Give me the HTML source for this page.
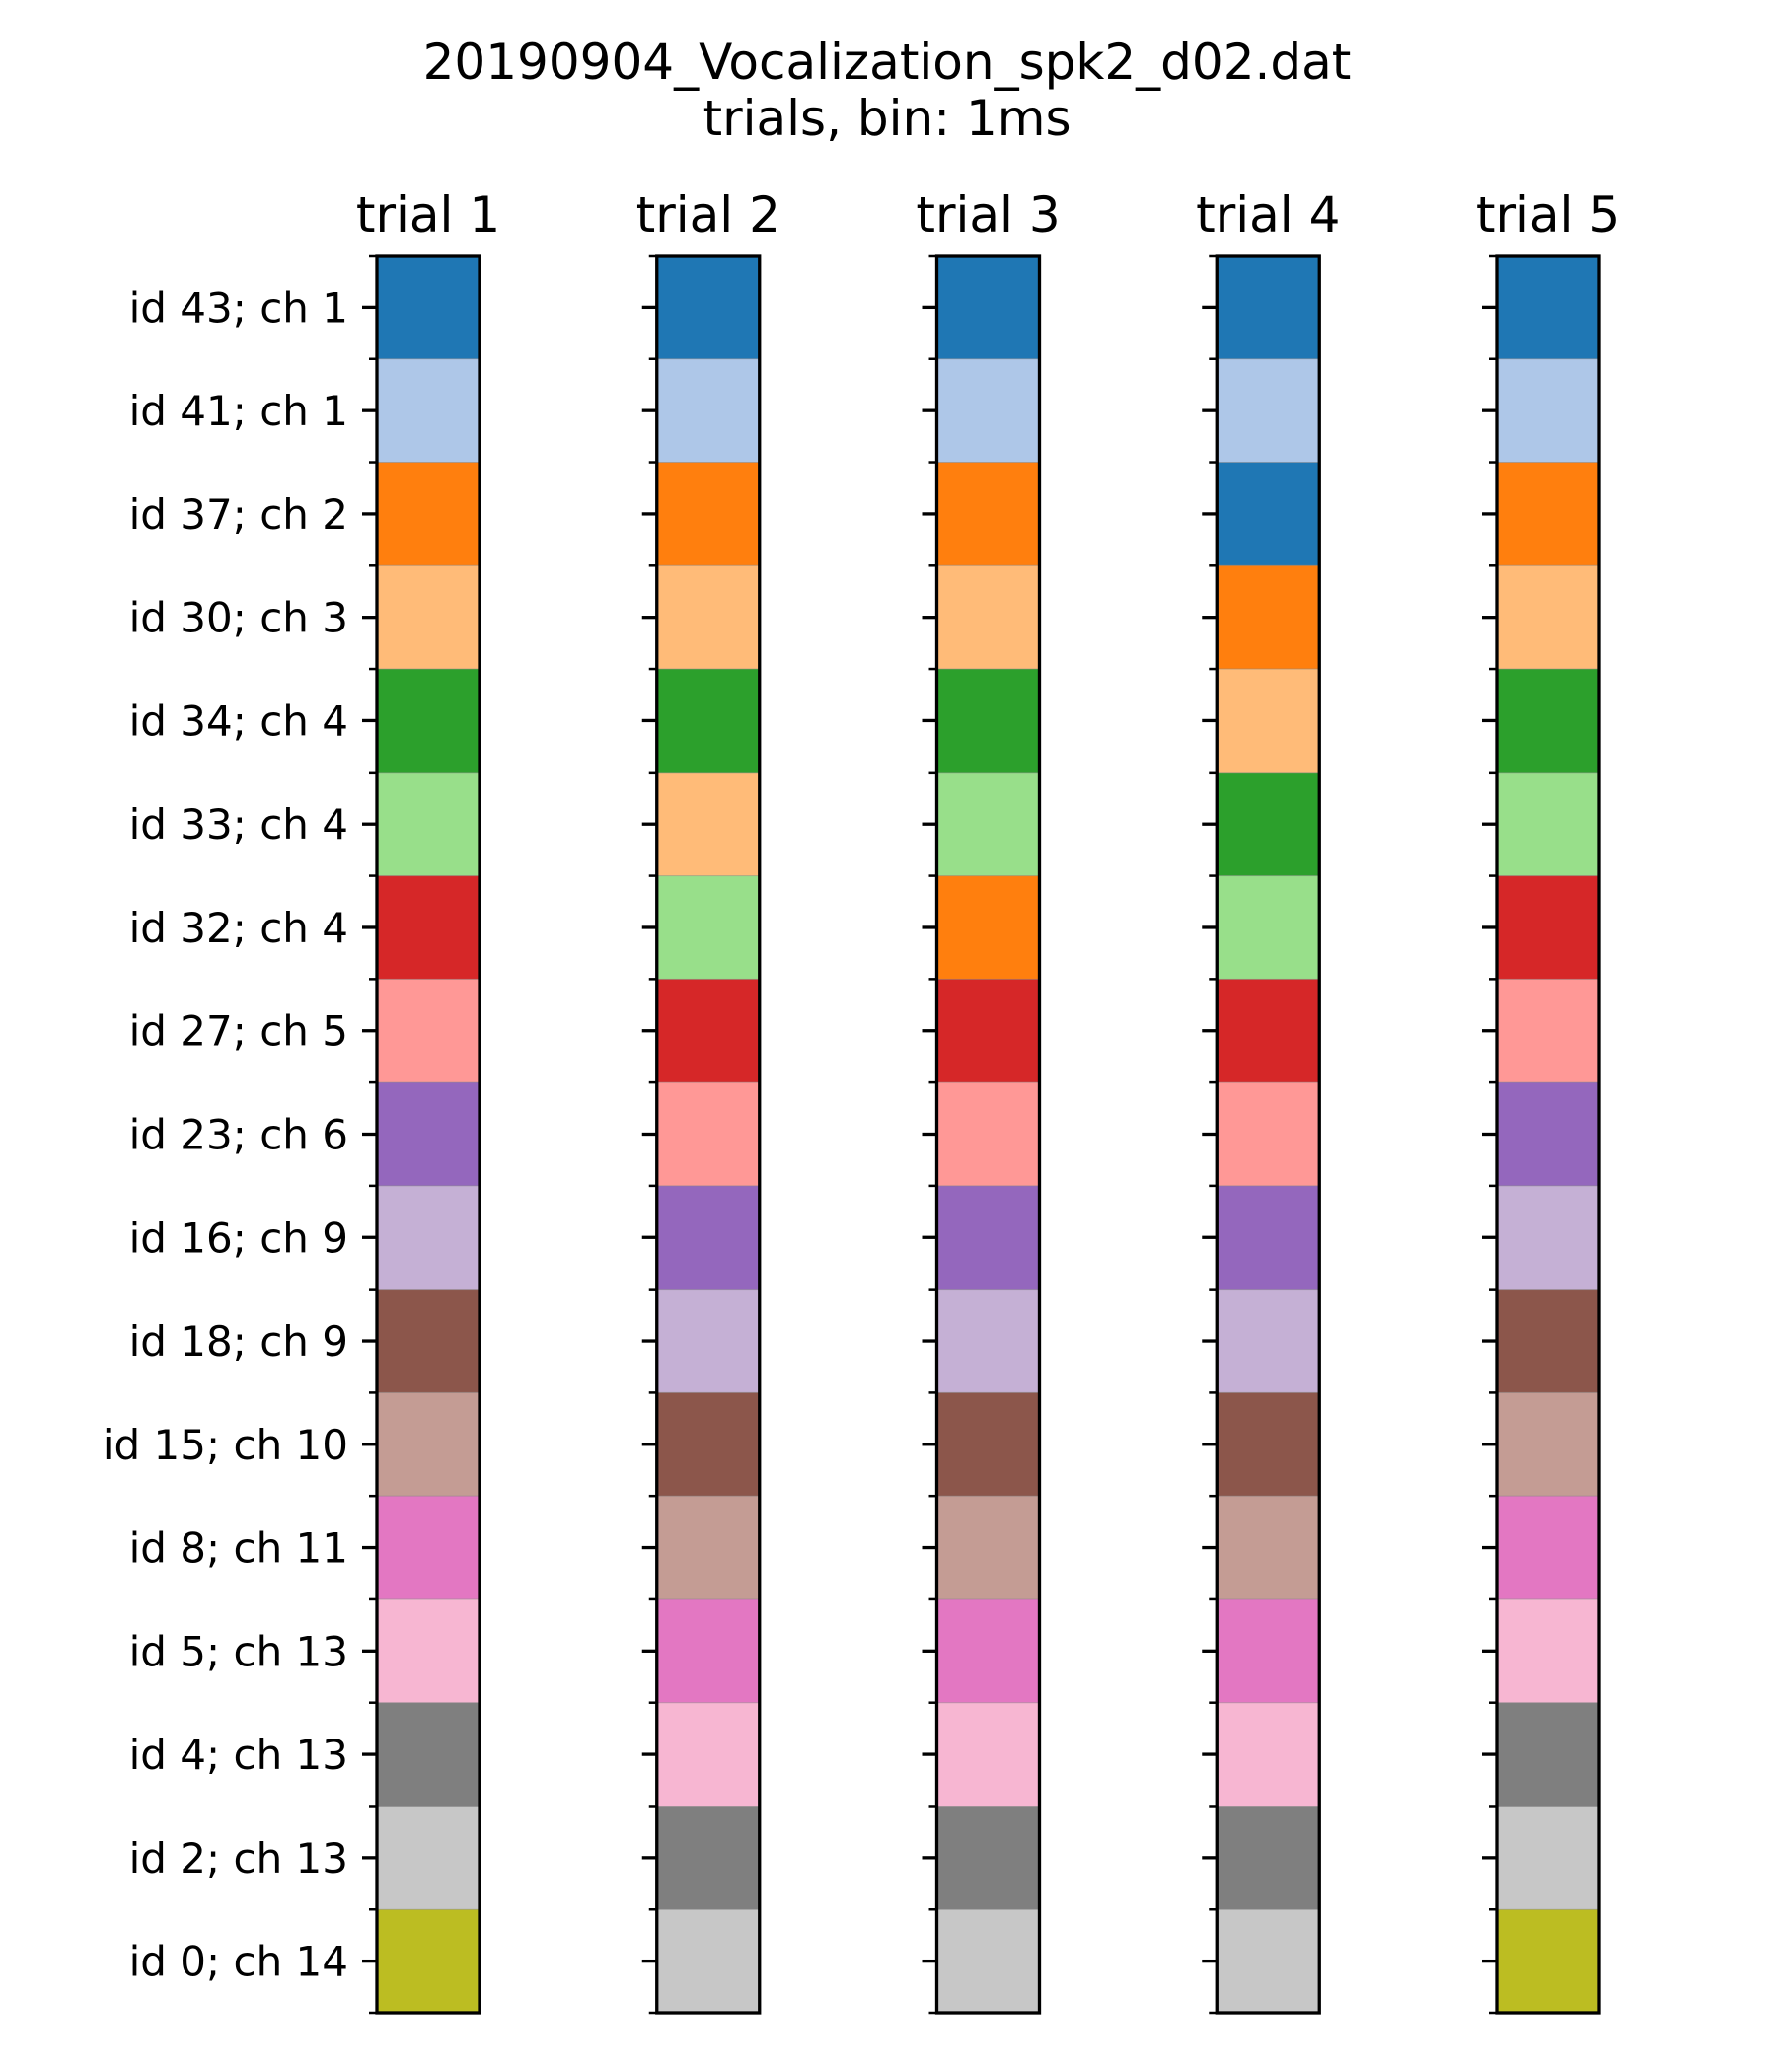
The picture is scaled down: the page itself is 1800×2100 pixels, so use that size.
<!DOCTYPE html>
<html><head><meta charset="utf-8"><style>
html,body{margin:0;padding:0;background:#fff}
svg{display:block}
text{font-family:"DejaVu Sans","Liberation Sans",sans-serif;fill:#000}
</style></head><body>
<svg id="chart" width="1800" height="2100" viewBox="0 0 1800 2100" xmlns="http://www.w3.org/2000/svg">
<text x="899" y="80" font-size="50" text-anchor="middle">20190904_Vocalization_spk2_d02.dat</text>
<text x="899" y="137" font-size="50" text-anchor="middle">trials, bin: 1ms</text>
<g id="plots"></g>
</svg>
<script>
const trialTitles = ["trial 1","trial 2","trial 3","trial 4","trial 5"];
const rowLabels = ["id 43; ch 1","id 41; ch 1","id 37; ch 2","id 30; ch 3","id 34; ch 4","id 33; ch 4","id 32; ch 4","id 27; ch 5","id 23; ch 6","id 16; ch 9","id 18; ch 9","id 15; ch 10","id 8; ch 11","id 5; ch 13","id 4; ch 13","id 2; ch 13","id 0; ch 14"];
const trial1 = [0,1,2,3,4,5,6,7,8,9,10,11,12,13,14,15,16];
const trial2 = [0,1,2,3,4,3,5,6,7,8,9,10,11,12,13,14,15];
const trial3 = [0,1,2,3,4,5,2,6,7,8,9,10,11,12,13,14,15];
const trial4 = [0,1,0,2,3,4,5,6,7,8,9,10,11,12,13,14,15];
const trial5 = [0,1,2,3,4,5,6,7,8,9,10,11,12,13,14,15,16];
const trials = [trial1,trial2,trial3,trial4,trial5];
const tab20 = ["#1f77b4","#aec7e8","#ff7f0e","#ffbb78","#2ca02c","#98df8a","#d62728","#ff9896","#9467bd","#c5b0d5","#8c564b","#c49c94","#e377c2","#f7b6d2","#7f7f7f","#c7c7c7","#bcbd22","#dbdb8d","#17becf","#9edae5"];

const NS="http://www.w3.org/2000/svg";
const g=document.getElementById('plots');
const top0=259, bottom0=2040, axW=104, left0=382, gap=283.75;
const nRows=rowLabels.length;
const rowH=(bottom0-top0)/nRows;
function yPos(i){return top0+i*rowH;}
function xPos(t){return left0+t*gap;}
function mk(tag,attrs){const e=document.createElementNS(NS,tag);for(const k in attrs)e.setAttribute(k,attrs[k]);return e;}

trials.forEach((tr,t)=>{
  const x=xPos(t);
  const ax=mk('g',{});
  
  
  g.appendChild(ax);
  tr.forEach((ci,i)=>{
    const r=mk('rect',{x:x,y:yPos(i),width:axW,height:rowH+0.5,fill:tab20[ci]});
    
    
    ax.appendChild(r);
    if(i>0){
      const l=mk('line',{x1:x,x2:x+axW,y1:yPos(i),y2:yPos(i),stroke:'#888','stroke-opacity':0.5,'stroke-width':1});
      ax.appendChild(l);
    }
  });
  for(let i=0;i<=nRows;i++){
    const mt=mk('line',{x1:x-8,x2:x,y1:yPos(i),y2:yPos(i),stroke:'#000','stroke-width':2.5});
    
    
    ax.appendChild(mt);
  }
  for(let i=0;i<nRows;i++){
    const yc=yPos(i)+rowH/2;
    const tk=mk('line',{x1:x-15,x2:x,y1:yc,y2:yc,stroke:'#000','stroke-width':3.3});
    
    
    ax.appendChild(tk);
    if(t===0){
      const tx=mk('text',{x:x-29,y:yc+15,'font-size':42,'text-anchor':'end'});
      
      
      tx.textContent=rowLabels[i];
      ax.appendChild(tx);
    }
  }
  const frame=mk('rect',{x:x,y:top0,width:axW,height:bottom0-top0,fill:'none',stroke:'#000','stroke-width':3.3});
  
  
  ax.appendChild(frame);
  const ttl=mk('text',{x:x+axW/2,y:235,'font-size':50,'text-anchor':'middle'});
  
  
  ttl.textContent=trialTitles[t];
  ax.appendChild(ttl);
});
</script>
</body></html>
